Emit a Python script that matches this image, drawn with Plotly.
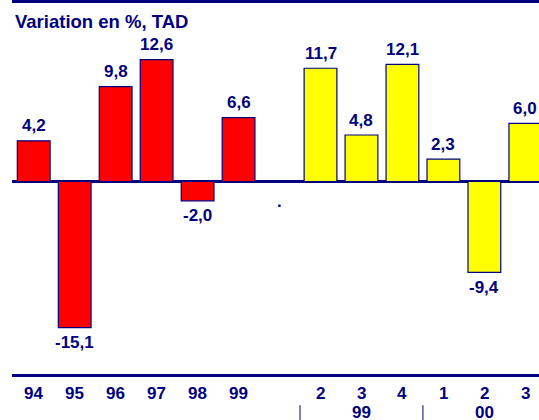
import plotly.graph_objects as go

# Data
years = ["94", "95", "96", "97", "98", "99"]
annual = [4.2, -15.1, 9.8, 12.6, -2.0, 6.6]
quarters = ["2", "3", "4", "1", "2", "3"]
quarterly = [11.7, 4.8, 12.1, 2.3, -9.4, 6.0]
groups = ["99", "00"]
title_text = "Variation en %, TAD"

NAVY = "#000080"
FONT = "Liberation Sans, Arial, sans-serif"

x_annual = list(range(len(years)))
gap_pos = len(years)
x_quarter = [gap_pos + 1 + i for i in range(len(quarters))]


def fmt(v):
    return f"{v:.1f}".replace(".", ",")


def bold(size):
    return dict(family=FONT, size=size, color=NAVY, weight="bold")


fig = go.Figure()
fig.add_trace(go.Bar(x=x_annual, y=annual, width=0.8,
                     marker=dict(color="#FF0000", line=dict(color=NAVY, width=1.2)),
                     hoverinfo="skip"))
fig.add_trace(go.Bar(x=x_quarter, y=quarterly, width=0.8,
                     marker=dict(color="#FFFF00", line=dict(color=NAVY, width=1.2)),
                     hoverinfo="skip"))

ann = []
for xs, vs in ((x_annual, annual), (x_quarter, quarterly)):
    for x, v in zip(xs, vs):
        ann.append(dict(x=x, y=v, xref="x", yref="y", text=fmt(v), showarrow=False,
                        yanchor="middle", yshift=15 if v >= 0 else -15,
                        font=bold(17)))
# small dot in the empty category
ann.append(dict(x=gap_pos, y=0, xref="x", yref="y", text=".", showarrow=False,
                yanchor="middle", yshift=-20, font=bold(17)))

# tick labels row 1
for x, lab in zip(x_annual + x_quarter, years + quarters):
    ann.append(dict(x=x, y=0, xref="x", yref="paper", text=lab, showarrow=False,
                    yanchor="middle", yshift=-19, font=bold(17)))
# group labels row 2 (centered on middle quarter of each group)
for gx, lab in zip([x_quarter[1], x_quarter[4]], groups):
    ann.append(dict(x=gx, y=0, xref="x", yref="paper", text=lab, showarrow=False,
                    yanchor="middle", yshift=-38, font=bold(17)))

# title
ann.append(dict(x=0.002, y=1, xref="paper", yref="paper", text=title_text,
                showarrow=False, xanchor="left", yanchor="middle", yshift=-18,
                font=bold(18.5)))

shapes = []
for sx in (x_quarter[0] - 0.5, x_quarter[3] - 0.5):
    shapes.append(dict(type="line", xref="x", yref="paper", x0=sx, x1=sx,
                       y0=-0.084, y1=-0.14, line=dict(color=NAVY, width=1)))

fig.update_layout(
    width=539, height=420,
    margin=dict(l=12, r=0, t=3, b=46),
    paper_bgcolor="white", plot_bgcolor="white",
    showlegend=False, barmode="overlay",
    annotations=ann, shapes=shapes,
    font=dict(family=FONT, color=NAVY),
    xaxis=dict(range=[-0.53, 12.333], showticklabels=False, ticks="",
               showgrid=False, zeroline=False,
               showline=True, linecolor=NAVY, linewidth=3, mirror=True),
    yaxis=dict(range=[-19.89, 18.44], showticklabels=False, ticks="",
               showgrid=False, showline=False,
               zeroline=True, zerolinecolor=NAVY, zerolinewidth=3),
)

fig.write_html("out.html")
